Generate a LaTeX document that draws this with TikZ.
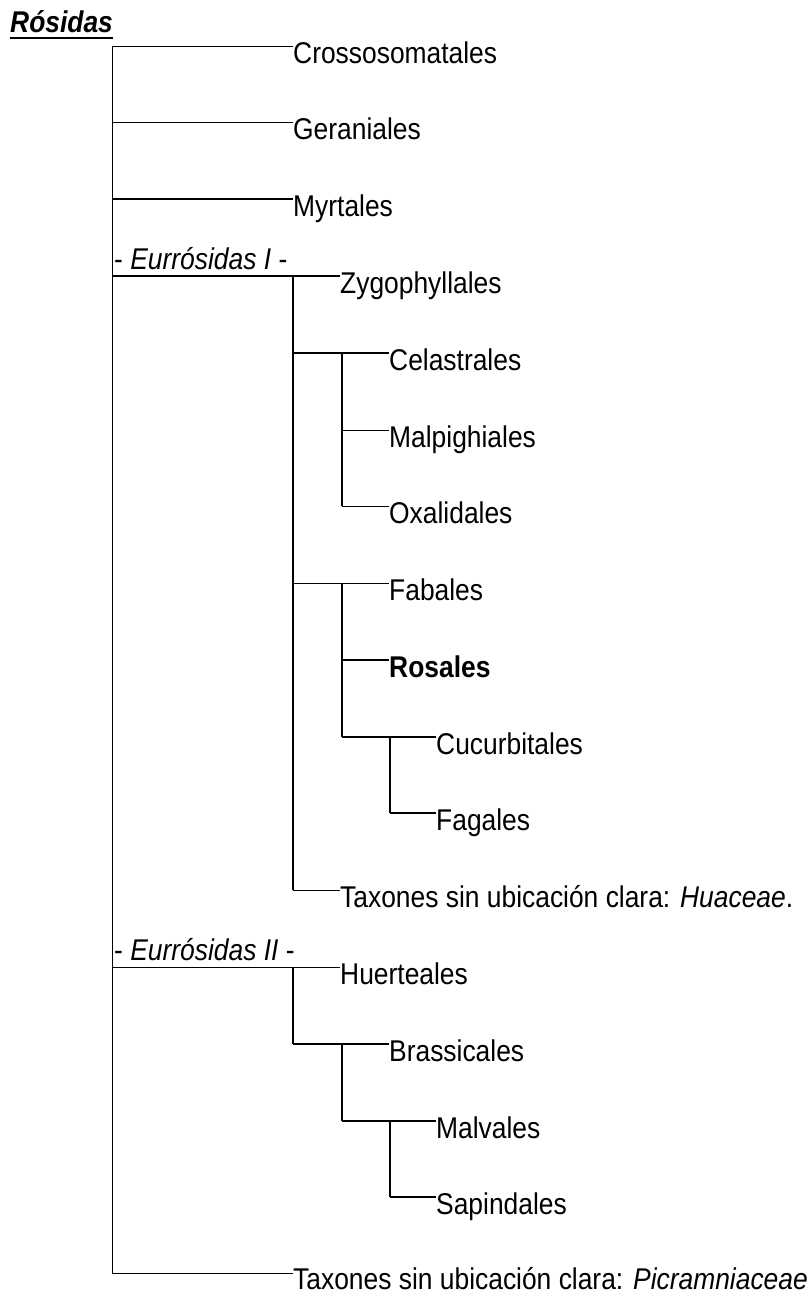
\documentclass[tikz,border=0pt]{standalone}
\usepackage{fontspec}
\setmainfont[FakeStretch=0.88]{Liberation Sans}
\usetikzlibrary{positioning}

\begin{document}
\begin{tikzpicture}[x=1pt, y=-1pt,
    taxon/.style={anchor=base west, inner sep=0pt, font=\fontsize{30}{34}\selectfont},
    twig/.style={line width=1pt},
    limb/.style={line width=2pt}]
    \useasboundingbox (0,0) rectangle (811,1294);
    \node[taxon, font=\fontsize{30}{34}\selectfont\bfseries\itshape] (rosidas) at (10,32) {Rósidas};
    \draw[limb] ([yshift=-6pt]rosidas.base west) -- ([yshift=-6pt]rosidas.base east);
    \node[taxon] (eurI) at (114,269) {- \textit{Eurrósidas I} -};
    \node[taxon] (eurII) at (114,960) {- \textit{Eurrósidas II} -};

    \coordinate (top) at (112,46);
    \coordinate (bottom) at (112,1273);
    \coordinate (ger) at (112,122);
    \coordinate (myr) at (112,199);
    \coordinate (eI) at (112,276);
    \coordinate (eII) at (112,967);
    \coordinate (eIa) at (293,276);
    \coordinate (eIb) at (293,890);
    \coordinate (cel) at (293,353);
    \coordinate (celv) at (342,353);
    \coordinate (mal) at (342,430);
    \coordinate (oxa) at (342,506);
    \coordinate (fab) at (293,583);
    \coordinate (fabv) at (342,583);
    \coordinate (ros) at (342,660);
    \coordinate (cuc) at (342,737);
    \coordinate (cucv) at (390,737);
    \coordinate (fag) at (390,813);
    \coordinate (eIIa) at (293,967);
    \coordinate (bra) at (293,1044);
    \coordinate (brav) at (342,1044);
    \coordinate (malv) at (342,1121);
    \coordinate (malvv) at (390,1121);
    \coordinate (sap) at (390,1197);

    \node[taxon] (crossosomatales) at (293,63) {Crossosomatales};
    \node[taxon] (geraniales) at (293,139) {Geraniales};
    \node[taxon] (myrtales) at (293,216) {Myrtales};
    \node[taxon] (zygophyllales) at (340,293) {Zygophyllales};
    \node[taxon] (celastrales) at (389,370) {Celastrales};
    \node[taxon] (malpighiales) at (389,447) {Malpighiales};
    \node[taxon] (oxalidales) at (389,523) {Oxalidales};
    \node[taxon] (fabales) at (389,600) {Fabales};
    \node[taxon, font=\fontsize{30}{34}\selectfont\bfseries] (rosales) at (389,677) {Rosales};
    \node[taxon] (cucurbitales) at (436,754) {Cucurbitales};
    \node[taxon] (fagales) at (436,830) {Fagales};
    \node[taxon] (huaceae) at (340,907) {Taxones sin ubicación clara: \textit{Huaceae}.};
    \node[taxon] (huerteales) at (340,984) {Huerteales};
    \node[taxon] (brassicales) at (389,1061) {Brassicales};
    \node[taxon] (malvales) at (436,1138) {Malvales};
    \node[taxon] (sapindales) at (436,1214) {Sapindales};
    \node[taxon] (picramniaceae) at (293,1289) {Taxones sin ubicación clara: \textit{Picramniaceae}};

    \draw[twig] (top) -- (bottom);
    \draw[twig] (top) -- (top -| crossosomatales.west);
    \draw[twig] (ger) -- (ger -| geraniales.west);
    \draw[limb] (myr) -- (myr -| myrtales.west);
    \draw[limb] (eI) -- (eI -| zygophyllales.west);
    \draw[limb] (eIa) -- (eIb);
    \draw[limb] (cel) -- (cel -| celastrales.west);
    \draw[limb] (celv) -- (oxa);
    \draw[twig] (mal) -- (mal -| malpighiales.west);
    \draw[twig] (oxa) -- (oxa -| oxalidales.west);
    \draw[twig] (fab) -- (fab -| fabales.west);
    \draw[limb] (fabv) -- (cuc);
    \draw[limb] (ros) -- (ros -| rosales.west);
    \draw[limb] (cuc) -- (cuc -| cucurbitales.west);
    \draw[limb] (cucv) -- (fag);
    \draw[limb] (fag) -- (fag -| fagales.west);
    \draw[twig] (eIb) -- (eIb -| huaceae.west);
    \draw[twig] (eII) -- (eII -| huerteales.west);
    \draw[limb] (eIIa) -- (bra);
    \draw[limb] (bra) -- (bra -| brassicales.west);
    \draw[limb] (brav) -- (malv);
    \draw[limb] (malv) -- (malv -| malvales.west);
    \draw[limb] (malvv) -- (sap);
    \draw[limb] (sap) -- (sap -| sapindales.west);
    \draw[twig] (bottom) -- (bottom -| picramniaceae.west);
  \end{tikzpicture}
\end{document}
